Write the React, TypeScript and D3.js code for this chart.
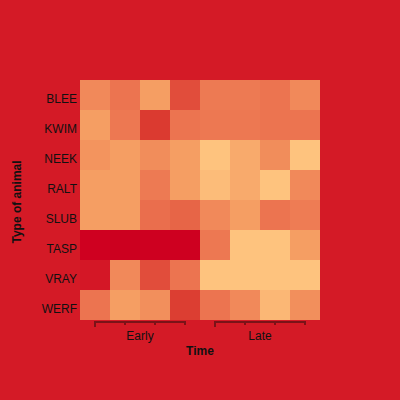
import React from "react";
import * as d3 from "d3";

const animals = ["BLEE", "KWIM", "NEEK", "RALT", "SLUB", "TASP", "VRAY", "WERF"];
const timePoints = ["1", "2", "3", "4", "5", "6", "7", "8"];
const groups = [
  { label: "Early", cols: ["1", "2", "3", "4"] },
  { label: "Late", cols: ["5", "6", "7", "8"] },
];
// intensity per animal (rows) across time points (cols)
const BLEE = [4, 5, 3, 7, 4.7, 4.7, 5, 4];
const KWIM = [3, 4.8, 8, 5, 4.8, 4.8, 5, 5];
const NEEK = [3.5, 3, 3.8, 3, 0, 2, 3.8, 0];
const RALT = [3, 3, 4.7, 3, 0.6, 2, 0, 4];
const SLUB = [3, 3, 5.3, 5.8, 4, 3, 5, 4.6];
const TASP = [10, 10.2, 10.1, 10.1, 4.8, 0, 0, 3];
const VRAY = [9.2, 4, 7, 5, 0, 0, 0, 0];
const WERF = [5, 3, 3.7, 7.8, 5, 4, 1, 3.7];
const values = [BLEE, KWIM, NEEK, RALT, SLUB, TASP, VRAY, WERF];

export default function App() {
  const x = d3.scaleBand<string>().domain(timePoints).range([80, 320]);
  const y = d3.scaleBand<string>().domain(animals).range([80, 320]);
  const color = d3
    .scaleLinear<string>()
    .domain([0, 3, 5, 8, 10, 10.2])
    .range(["#fec37e", "#f59e63", "#ec7450", "#db3a30", "#cf0020", "#cc001f"])
    .clamp(true);
  const font = "'Liberation Sans', Arial, sans-serif";
  const axisY = 322;
  const axisColor = "#7a1318";
  return (
    <svg width={400} height={400} style={{ position: "absolute", left: 0, top: 0 }} fontFamily={font}>
      <rect x={0} y={0} width={400} height={400} fill="#d41a26" />
      {animals.map((a, i) =>
        timePoints.map((t, j) => (
          <rect
            key={a + t}
            x={x(t)}
            y={y(a)}
            width={x.bandwidth()}
            height={y.bandwidth()}
            fill={color(values[i][j])}
          />
        ))
      )}
      {animals.map((a) => (
        <text key={a} x={77} y={(y(a) ?? 0) + y.bandwidth() / 2 + 8} textAnchor="end" fontSize={12} fill="#111">
          {a}
        </text>
      ))}
      {groups.map((g) => {
        const xs = g.cols.map((c) => (x(c) ?? 0) + x.bandwidth() / 2);
        const x0 = xs[0];
        const x1 = xs[xs.length - 1];
        return (
          <g key={g.label}>
            <line x1={x0 - 1} x2={x1 + 1} y1={axisY} y2={axisY} stroke={axisColor} strokeWidth={2} />
            {xs.map((xx, k) => (
              <line
                key={k}
                x1={xx}
                x2={xx}
                y1={axisY - 1}
                y2={k === 0 ? axisY + 5 : axisY + 3}
                stroke={axisColor}
                strokeWidth={2}
              />
            ))}
            <text x={(x0 + x1) / 2} y={340} textAnchor="middle" fontSize={12} fill="#111">
              {g.label}
            </text>
          </g>
        );
      })}
      <text x={200} y={355} textAnchor="middle" fontSize={12} fontWeight="bold" fill="#111">
        Time
      </text>
      <text
        transform="translate(21,202) rotate(-90)"
        textAnchor="middle"
        fontSize={12}
        fontWeight="bold"
        fill="#111"
      >
        Type of animal
      </text>
    </svg>
  );
}
